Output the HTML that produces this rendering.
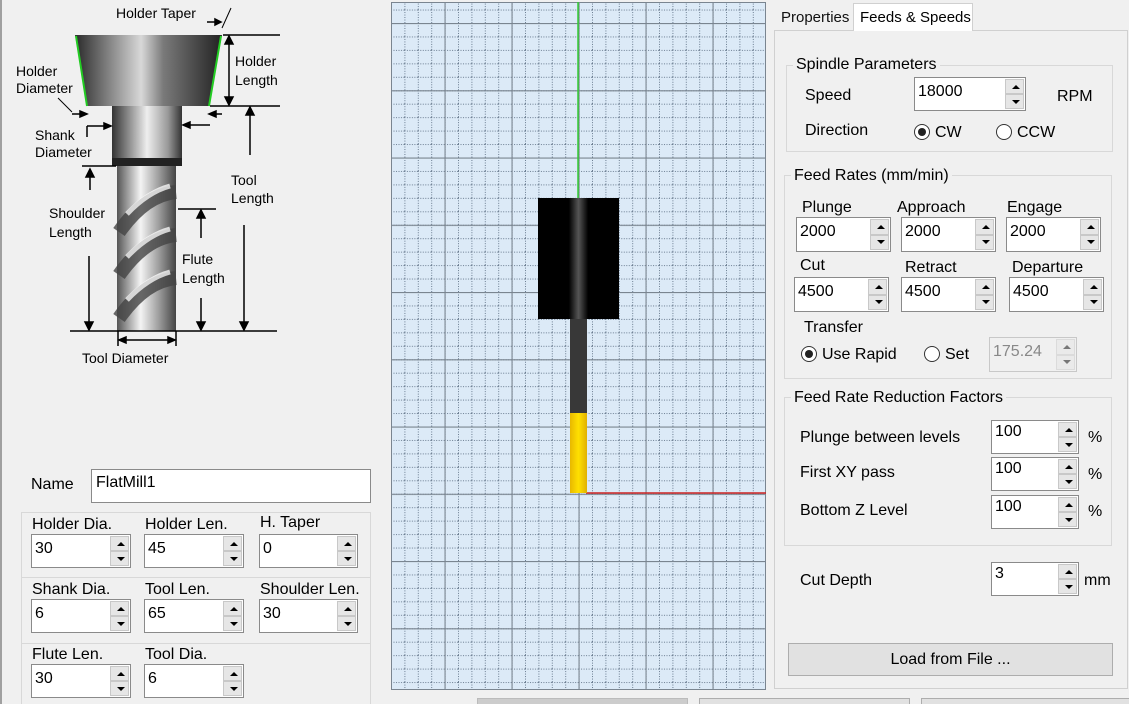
<!DOCTYPE html>
<html><head><meta charset="utf-8"><style>
*{box-sizing:border-box}
html,body{overflow:hidden}
body{margin:0;width:1129px;height:704px;background:#f0f0f0;position:relative;overflow:hidden;font-family:"Liberation Sans",Arial,sans-serif;color:#000}
.a{position:absolute;white-space:nowrap}
.l{position:absolute;font-size:16px;white-space:nowrap}
.sp{position:absolute;background:#fff;border:1px solid #8a8a8a;font-size:16px}
.sp .v{position:absolute;left:3px;top:5px}
.sp .b{position:absolute;right:1px;width:19px;background:#e6e6e6;border:1px solid #c8c8c8}
.sp .u{top:1px;bottom:50%}
.sp .d{bottom:1px;top:50%}
.sp .b:after{content:"";position:absolute;left:6px;top:50%;margin-top:-2px;border-left:4px solid transparent;border-right:4px solid transparent}
.sp .u:after{border-bottom:4px solid #000}
.sp .d:after{border-top:4px solid #000}
.g{position:absolute;border:1px solid #d8d8d8}
.gt{position:absolute;background:#f0f0f0;padding:0 3px;font-size:16px;white-space:nowrap}
.rad{position:absolute;width:16px;height:16px;border:1px solid #333;border-radius:50%;background:#fff}
.rad.on:after{content:"";position:absolute;left:3px;top:3px;width:8px;height:8px;border-radius:50%;background:#222}
</style></head><body>
<div class="a" style="left:0;top:0;width:2px;height:704px;background:#a0a0a0"></div>
<svg class="a" style="left:0;top:0" width="390" height="370">
<defs>
<linearGradient id="hg" x1="0" x2="1"><stop offset="0" stop-color="#2a2a2a"/><stop offset=".45" stop-color="#d8d8d8"/><stop offset=".6" stop-color="#7a7a7a"/><stop offset="1" stop-color="#222"/></linearGradient>
<linearGradient id="sg" x1="0" x2="1"><stop offset="0" stop-color="#333"/><stop offset=".5" stop-color="#eee"/><stop offset=".8" stop-color="#999"/><stop offset="1" stop-color="#333"/></linearGradient>
<linearGradient id="fg" x1="0" x2="1"><stop offset="0" stop-color="#555"/><stop offset=".4" stop-color="#f4f4f4"/><stop offset=".7" stop-color="#a0a0a0"/><stop offset="1" stop-color="#444"/></linearGradient>
</defs>
<polygon points="75,35 222,35 209,106 87,106" fill="url(#hg)"/>
<line x1="76" y1="36" x2="87" y2="106" stroke="#2c2" stroke-width="2"/>
<line x1="221" y1="36" x2="209" y2="106" stroke="#2c2" stroke-width="2"/>
<rect x="112" y="106" width="70" height="57" fill="url(#sg)"/>
<rect x="112" y="158" width="70" height="8" fill="#222"/>
<rect x="117" y="166" width="59" height="165" fill="url(#fg)"/>
<g fill="none" stroke="#444" stroke-width="14" opacity=".8">
<path d="M119,232 Q145,195 176,192"/><path d="M119,275 Q145,238 176,235"/><path d="M119,318 Q145,281 176,278"/>
</g>
<g fill="none" stroke="#fff" stroke-width="5" opacity=".75">
<path d="M127,214 Q148,192 170,186"/><path d="M127,257 Q148,235 170,229"/><path d="M127,300 Q148,278 170,272"/>
</g>
<g stroke="#000" stroke-width="1.5" fill="#000">
<line x1="70" y1="331" x2="277" y2="331"/>
<line x1="223" y1="35" x2="280" y2="35"/><line x1="210" y1="106" x2="280" y2="106"/>
<line x1="229" y1="38" x2="229" y2="103"/><polygon points="229,36 225,44 233,44"/><polygon points="229,105 225,97 233,97"/>
<line x1="250" y1="155" x2="250" y2="110"/><polygon points="250,107 246,115 254,115"/>
<line x1="244" y1="225" x2="244" y2="328"/><polygon points="244,330 240,322 248,322"/>
<line x1="201" y1="238" x2="201" y2="212"/><polygon points="201,210 197,218 205,218"/>
<line x1="201" y1="298" x2="201" y2="328"/><polygon points="201,330 197,322 205,322"/>
<line x1="178" y1="209" x2="216" y2="209"/>
<line x1="82" y1="166" x2="116" y2="166"/>
<line x1="90" y1="190" x2="90" y2="172"/><polygon points="90,169 86,177 94,177"/>
<line x1="89" y1="256" x2="89" y2="328"/><polygon points="89,330 85,322 93,322"/>
<line x1="118" y1="331" x2="118" y2="346"/><line x1="176" y1="331" x2="176" y2="346"/>
<line x1="120" y1="340" x2="174" y2="340"/><polygon points="119,340 126,337 126,343"/><polygon points="175,340 168,337 168,343"/>
<line x1="72" y1="114" x2="86" y2="114"/><polygon points="87,114 80,111 80,117"/>
<line x1="210" y1="114" x2="222" y2="114"/><polygon points="209,114 216,111 216,117"/>
<line x1="87" y1="137" x2="87" y2="126"/><line x1="87" y1="126" x2="108" y2="126"/><polygon points="111,126 104,123 104,129"/>
<line x1="210" y1="125" x2="185" y2="125"/><polygon points="183,125 190,122 190,128"/>
<line x1="58" y1="98" x2="72" y2="112" stroke-width="1"/>
<line x1="207" y1="22" x2="220" y2="22"/><polygon points="221,22 215,19 215,25"/>
<line x1="222" y1="28" x2="231" y2="8" stroke-width="1"/>
</g>
<g font-family="Liberation Sans,Arial,sans-serif" font-size="14" fill="#000">
<text x="116" y="18">Holder Taper</text>
<text x="16" y="76">Holder</text><text x="16" y="93">Diameter</text>
<text x="235" y="66">Holder</text><text x="235" y="85">Length</text>
<text x="35" y="140">Shank</text><text x="35" y="157">Diameter</text>
<text x="231" y="185">Tool</text><text x="231" y="203">Length</text>
<text x="49" y="218">Shoulder</text><text x="49" y="237">Length</text>
<text x="182" y="264">Flute</text><text x="182" y="283">Length</text>
<text x="82" y="363">Tool Diameter</text>
</g>
</svg>

<div class="l" style="left:31px;top:476px">Name</div>
<div class="a" style="left:91px;top:469px;width:280px;height:34px;background:#fff;border:1px solid #8a8a8a;font-size:16px;padding:4px 4px">FlatMill1</div>
<div class="g" style="left:21px;top:512px;width:350px;height:192px;border-bottom:none"></div>
<div class="a" style="left:22px;top:577px;width:348px;height:1px;background:#d8d8d8"></div>
<div class="a" style="left:22px;top:643px;width:348px;height:1px;background:#d8d8d8"></div>

<div class="l" style="left:32px;top:516px">Holder Dia.</div>
<div class="l" style="left:145px;top:516px">Holder Len.</div>
<div class="l" style="left:260px;top:514px">H. Taper</div>
<div class="l" style="left:32px;top:581px">Shank Dia.</div>
<div class="l" style="left:145px;top:581px">Tool Len.</div>
<div class="l" style="left:260px;top:581px">Shoulder Len.</div>
<div class="l" style="left:32px;top:646px">Flute Len.</div>
<div class="l" style="left:145px;top:646px">Tool Dia.</div>

<div class="sp" style="left:31px;top:534px;width:100px;height:34px"><span class="v">30</span><i class="b u"></i><i class="b d"></i></div>
<div class="sp" style="left:144px;top:534px;width:100px;height:34px"><span class="v">45</span><i class="b u"></i><i class="b d"></i></div>
<div class="sp" style="left:259px;top:534px;width:99px;height:34px"><span class="v">0</span><i class="b u"></i><i class="b d"></i></div>
<div class="sp" style="left:31px;top:599px;width:100px;height:34px"><span class="v">6</span><i class="b u"></i><i class="b d"></i></div>
<div class="sp" style="left:144px;top:599px;width:100px;height:34px"><span class="v">65</span><i class="b u"></i><i class="b d"></i></div>
<div class="sp" style="left:259px;top:599px;width:99px;height:34px"><span class="v">30</span><i class="b u"></i><i class="b d"></i></div>
<div class="sp" style="left:31px;top:664px;width:100px;height:34px"><span class="v">30</span><i class="b u"></i><i class="b d"></i></div>
<div class="sp" style="left:144px;top:664px;width:100px;height:34px"><span class="v">6</span><i class="b u"></i><i class="b d"></i></div>

<svg class="a" style="left:391px;top:2px" width="375" height="688">
<defs>
<pattern id="mn" x="-13.4" y="21" width="13.4" height="13.45" patternUnits="userSpaceOnUse">
<line x1="0.5" y1="0" x2="0.5" y2="13.45" stroke="#6a7c90" stroke-width="1" stroke-dasharray="1,1.5"/>
<line x1="0" y1="0.5" x2="13.4" y2="0.5" stroke="#6a7c90" stroke-width="1" stroke-dasharray="1,1.5"/>
</pattern>
<pattern id="mj" x="-13.5" y="21" width="67" height="67.25" patternUnits="userSpaceOnUse">
<line x1="0.5" y1="0" x2="0.5" y2="67.25" stroke="#7a8590" stroke-width="1.2"/>
<line x1="0" y1="0.5" x2="67" y2="0.5" stroke="#7a8590" stroke-width="1.2"/>
</pattern>
<linearGradient id="bk" x1="0" x2="1"><stop offset="0" stop-color="#000"/><stop offset=".38" stop-color="#000"/><stop offset=".5" stop-color="#555"/><stop offset=".62" stop-color="#000"/><stop offset="1" stop-color="#000"/></linearGradient>
<linearGradient id="yl" x1="0" x2="1"><stop offset="0" stop-color="#e8b800"/><stop offset=".5" stop-color="#ffe000"/><stop offset="1" stop-color="#e0b000"/></linearGradient>
</defs>
<rect width="375" height="688" fill="#dceaf7"/>
<rect width="375" height="688" fill="url(#mn)"/>
<rect width="375" height="688" fill="url(#mj)"/>
<rect x="0.5" y="0.5" width="374" height="687" fill="none" stroke="#7a8590"/>
<line x1="187" y1="0" x2="187" y2="196" stroke="#3c3" stroke-width="1.5"/>
<line x1="195" y1="491" x2="375" y2="491" stroke="#c22" stroke-width="1.5"/>
<rect x="147" y="196" width="81" height="121" fill="url(#bk)"/>
<rect x="179" y="317" width="17" height="95" fill="#383838"/>
<rect x="179" y="411" width="17" height="80" fill="url(#yl)"/>
</svg>

<div class="a" style="left:477px;top:698px;width:211px;height:10px;background:#ccc;border:1px solid #bbb"></div>
<div class="a" style="left:699px;top:698px;width:211px;height:10px;background:#e1e1e1;border:1px solid #adadad"></div>
<div class="a" style="left:921px;top:698px;width:210px;height:10px;background:#e1e1e1;border:1px solid #adadad"></div>

<div class="a" style="left:774px;top:30px;width:354px;height:659px;background:#f0f0f0;border:1px solid #d0d0d0;box-shadow:inset 0 0 0 1px #fff"></div>
<div class="a" style="left:776px;top:5px;width:76px;height:25px;font-size:15px;padding:4px 5px;color:#111">Properties</div>
<div class="a" style="left:853px;top:3px;width:120px;height:28px;background:#fff;border:1px solid #d0d0d0;border-bottom:none;font-size:15px;padding:5px 6px">Feeds &amp; Speeds</div>
<div class="a" style="left:775px;top:31px;width:352px;height:657px;background:#f0f0f0"></div>

<div class="g" style="left:786px;top:65px;width:327px;height:87px"></div>
<div class="gt" style="left:793px;top:56px">Spindle Parameters</div>
<div class="l" style="left:805px;top:87px">Speed</div>
<div class="sp" style="left:914px;top:77px;width:112px;height:34px"><span class="v">18000</span><i class="b u"></i><i class="b d"></i></div>
<div class="l" style="left:1057px;top:88px">RPM</div>
<div class="l" style="left:805px;top:122px">Direction</div>
<div class="rad on" style="left:914px;top:124px"></div><div class="l" style="left:935px;top:124px">CW</div>
<div class="rad" style="left:996px;top:124px"></div><div class="l" style="left:1017px;top:124px">CCW</div>

<div class="g" style="left:784px;top:175px;width:328px;height:204px"></div>
<div class="gt" style="left:791px;top:167px">Feed Rates (mm/min)</div>
<div class="l" style="left:802px;top:199px">Plunge</div>
<div class="l" style="left:897px;top:199px">Approach</div>
<div class="l" style="left:1007px;top:199px">Engage</div>
<div class="sp" style="left:796px;top:217px;width:95px;height:35px"><span class="v">2000</span><i class="b u"></i><i class="b d"></i></div>
<div class="sp" style="left:901px;top:217px;width:95px;height:35px"><span class="v">2000</span><i class="b u"></i><i class="b d"></i></div>
<div class="sp" style="left:1006px;top:217px;width:95px;height:35px"><span class="v">2000</span><i class="b u"></i><i class="b d"></i></div>
<div class="l" style="left:800px;top:257px">Cut</div>
<div class="l" style="left:905px;top:259px">Retract</div>
<div class="l" style="left:1012px;top:259px">Departure</div>
<div class="sp" style="left:794px;top:277px;width:95px;height:35px"><span class="v">4500</span><i class="b u"></i><i class="b d"></i></div>
<div class="sp" style="left:901px;top:277px;width:95px;height:35px"><span class="v">4500</span><i class="b u"></i><i class="b d"></i></div>
<div class="sp" style="left:1009px;top:277px;width:95px;height:35px"><span class="v">4500</span><i class="b u"></i><i class="b d"></i></div>
<div class="l" style="left:804px;top:319px">Transfer</div>
<div class="rad on" style="left:801px;top:346px"></div><div class="l" style="left:822px;top:346px">Use Rapid</div>
<div class="rad" style="left:924px;top:346px"></div><div class="l" style="left:945px;top:346px">Set</div>
<div class="sp" style="left:989px;top:337px;width:88px;height:35px;border-color:#c8c8c8;background:#f0f0f0;color:#888"><span class="v">175.24</span><i class="b u" style="opacity:.5"></i><i class="b d" style="opacity:.5"></i></div>

<div class="g" style="left:784px;top:397px;width:328px;height:149px"></div>
<div class="gt" style="left:791px;top:389px">Feed Rate Reduction Factors</div>
<div class="l" style="left:800px;top:429px">Plunge between levels</div>
<div class="l" style="left:800px;top:464px">First XY pass</div>
<div class="l" style="left:800px;top:502px">Bottom Z Level</div>
<div class="sp" style="left:991px;top:420px;width:88px;height:34px"><span class="v" style="top:2px">100</span><i class="b u"></i><i class="b d"></i></div>
<div class="sp" style="left:991px;top:457px;width:88px;height:34px"><span class="v" style="top:2px">100</span><i class="b u"></i><i class="b d"></i></div>
<div class="sp" style="left:991px;top:495px;width:88px;height:34px"><span class="v" style="top:2px">100</span><i class="b u"></i><i class="b d"></i></div>
<div class="l" style="left:1088px;top:429px">%</div>
<div class="l" style="left:1088px;top:466px">%</div>
<div class="l" style="left:1088px;top:503px">%</div>

<div class="l" style="left:800px;top:572px">Cut Depth</div>
<div class="sp" style="left:991px;top:562px;width:88px;height:34px"><span class="v" style="top:2px">3</span><i class="b u"></i><i class="b d"></i></div>
<div class="l" style="left:1084px;top:572px">mm</div>

<div class="a" style="left:788px;top:643px;width:325px;height:33px;background:#e1e1e1;border:1px solid #adadad;font-size:16px;text-align:center;line-height:31px">Load from File ...</div>
</body></html>
